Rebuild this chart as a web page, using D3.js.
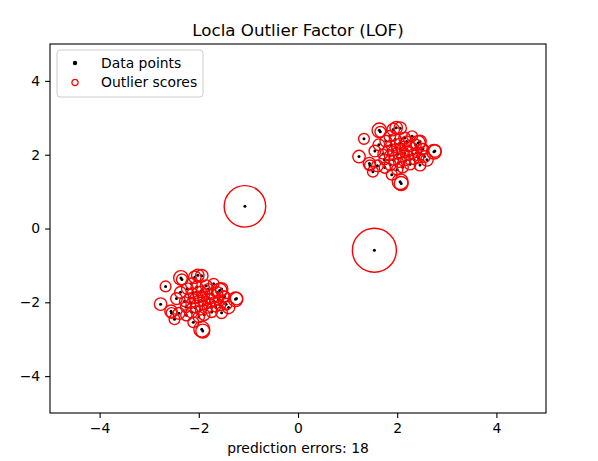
<!DOCTYPE html>
<html>
<head>
<meta charset="utf-8">
<script src="https://cdn.jsdelivr.net/npm/d3@7"></script>
<style>
  body { margin: 0; background: #fff; }
  svg { display: block; font-family: "DejaVu Sans", sans-serif; }
</style>
</head>
<body>
<div id="chart"></div>
<script>
// data: [x, y, normalised outlier score]
const upperCluster = [
  [1.23, 1.95, 0.08], [1.64, 2.66, 0.11], [1.66, 2.62, 0.06], [1.92, 2.68, 0.08],
  [1.98, 2.73, 0.08], [2.06, 2.72, 0.08], [1.33, 2.43, 0.06], [1.44, 1.76, 0.08],
  [1.45, 1.71, 0.06], [1.51, 1.54, 0.06], [1.89, 1.46, 0.06], [2.06, 1.27, 0.13],
  [2.08, 1.22, 0.10], [2.60, 1.86, 0.08], [2.74, 2.08, 0.11], [2.76, 2.10, 0.08],
  [2.42, 2.32, 0.11], [2.46, 2.36, 0.08], [2.30, 2.50, 0.06], [2.52, 2.16, 0.06],
  [1.63, 2.27, 0.07], [1.71, 2.02, 0.05], [1.74, 1.87, 0.06], [1.77, 2.37, 0.07],
  [1.81, 2.12, 0.05], [1.84, 1.97, 0.05], [1.86, 1.73, 0.07], [1.87, 2.26, 0.05],
  [1.91, 2.10, 0.045], [1.93, 1.85, 0.05], [1.96, 2.42, 0.07], [1.98, 2.18, 0.045],
  [2.01, 2.01, 0.045], [2.03, 1.79, 0.05], [2.05, 2.31, 0.05], [2.07, 2.14, 0.045],
  [2.09, 1.93, 0.045], [2.11, 1.66, 0.065], [2.13, 2.24, 0.045], [2.15, 2.04, 0.045],
  [2.17, 1.84, 0.05], [2.19, 2.36, 0.06], [2.21, 2.11, 0.045], [2.23, 1.97, 0.045],
  [2.26, 1.74, 0.065], [2.27, 2.22, 0.05], [2.31, 2.02, 0.045], [2.34, 1.87, 0.05],
  [2.37, 2.27, 0.065], [2.39, 2.06, 0.05], [2.43, 1.92, 0.06], [2.46, 1.72, 0.07],
  [1.60, 1.70, 0.07], [1.55, 2.10, 0.07], [1.75, 1.65, 0.065], [2.00, 1.60, 0.065],
  [2.15, 2.45, 0.07], [1.85, 2.50, 0.07], [2.50, 2.15, 0.065], [2.55, 1.95, 0.07]
];
const lowerCluster = [
  [-2.77, -2.05, 0.08], [-2.36, -1.34, 0.11], [-2.34, -1.38, 0.06], [-2.08, -1.32, 0.08],
  [-2.02, -1.27, 0.08], [-1.94, -1.28, 0.08], [-2.67, -1.57, 0.06], [-2.56, -2.24, 0.08],
  [-2.55, -2.29, 0.06], [-2.49, -2.46, 0.06], [-2.11, -2.54, 0.06], [-1.94, -2.73, 0.13],
  [-1.92, -2.78, 0.10], [-1.40, -2.14, 0.08], [-1.26, -1.92, 0.11], [-1.24, -1.90, 0.08],
  [-1.58, -1.68, 0.11], [-1.54, -1.64, 0.08], [-1.70, -1.50, 0.06], [-1.48, -1.84, 0.06],
  [-2.37, -1.73, 0.07], [-2.29, -1.98, 0.05], [-2.26, -2.13, 0.06], [-2.23, -1.63, 0.07],
  [-2.19, -1.88, 0.05], [-2.16, -2.03, 0.05], [-2.14, -2.27, 0.07], [-2.13, -1.74, 0.05],
  [-2.09, -1.90, 0.045], [-2.07, -2.15, 0.05], [-2.04, -1.58, 0.07], [-2.02, -1.82, 0.045],
  [-1.99, -1.99, 0.045], [-1.97, -2.21, 0.05], [-1.95, -1.69, 0.05], [-1.93, -1.86, 0.045],
  [-1.91, -2.07, 0.045], [-1.89, -2.34, 0.065], [-1.87, -1.76, 0.045], [-1.85, -1.96, 0.045],
  [-1.83, -2.16, 0.05], [-1.81, -1.64, 0.06], [-1.79, -1.89, 0.045], [-1.77, -2.03, 0.045],
  [-1.74, -2.26, 0.065], [-1.73, -1.78, 0.05], [-1.69, -1.98, 0.045], [-1.66, -2.13, 0.05],
  [-1.63, -1.73, 0.065], [-1.61, -1.94, 0.05], [-1.57, -2.08, 0.06], [-1.54, -2.28, 0.07],
  [-2.40, -2.30, 0.07], [-2.45, -1.90, 0.07], [-2.25, -2.35, 0.065], [-2.00, -2.40, 0.065],
  [-1.85, -1.55, 0.07], [-2.15, -1.50, 0.07], [-1.50, -1.85, 0.065], [-1.45, -2.05, 0.07]
];
const outlierPoints = [
  [-1.07, 0.60, 0.89], [1.54, -0.59, 1.0]
];
const xTicks = [-4, -2, 0, 2, 4];
const yTicks = [-4, -2, 0, 2, 4];
const legendLabels = ['Data points', 'Outlier scores'];

const W = 598, H = 461;
const margin = { left: 50, top: 44, right: 52, bottom: 48 };
const allPoints = upperCluster.concat(lowerCluster, outlierPoints);

const svg = d3.select('#chart').append('svg')
  .attr('width', W).attr('height', H);

const x = d3.scaleLinear().domain([-5, 5]).range([margin.left, W - margin.right]);
const y = d3.scaleLinear().domain([-5, 5]).range([H - margin.bottom, margin.top]);
// marker radius in px grows with sqrt of score (matplotlib s = 1000 * radius)
const r = d3.scaleSqrt().domain([0, 1]).range([0, 22]);

const plot = svg.append('g');
plot.append('clipPath').attr('id', 'clip')
  .append('rect')
  .attr('x', margin.left).attr('y', margin.top)
  .attr('width', W - margin.left - margin.right)
  .attr('height', H - margin.top - margin.bottom);

const marks = plot.append('g').attr('clip-path', 'url(#clip)');

marks.selectAll('circle.dot')
  .data(allPoints)
  .enter().append('circle')
  .attr('class', 'dot')
  .attr('cx', d => x(d[0]))
  .attr('cy', d => y(d[1]))
  .attr('r', 1.5)
  .attr('fill', '#000');

marks.selectAll('circle.score')
  .data(allPoints)
  .enter().append('circle')
  .attr('class', 'score')
  .attr('cx', d => x(d[0]))
  .attr('cy', d => y(d[1]))
  .attr('r', d => r(d[2]))
  .attr('fill', 'none')
  .attr('stroke', '#ff0000')
  .attr('stroke-width', 1.4);

// axes
const fmt = d => d < 0 ? '\u2212' + Math.abs(d) : d;
const xAxis = svg.append('g')
  .attr('transform', `translate(0,${H - margin.bottom})`)
  .call(d3.axisBottom(x).tickValues(xTicks).tickSize(4.9).tickPadding(4.9).tickFormat(fmt));
const yAxis = svg.append('g')
  .attr('transform', `translate(${margin.left},0)`)
  .call(d3.axisLeft(y).tickValues(yTicks).tickSize(4.9).tickPadding(4.9).tickFormat(fmt));
[xAxis, yAxis].forEach(a => {
  a.select('.domain').remove();
  a.selectAll('line').attr('stroke', '#000').attr('stroke-width', 1.1);
  a.selectAll('text').attr('fill', '#000').style('font-size', '13.9px').style('font-family', '"DejaVu Sans", sans-serif');
});

svg.append('rect')
  .attr('x', margin.left).attr('y', margin.top)
  .attr('width', W - margin.left - margin.right)
  .attr('height', H - margin.top - margin.bottom)
  .attr('fill', 'none').attr('stroke', '#000').attr('stroke-width', 1.1);

svg.append('text')
  .attr('x', (margin.left + W - margin.right) / 2).attr('y', 36)
  .attr('text-anchor', 'middle')
  .style('font-size', '16.7px')
  .text('Locla Outlier Factor (LOF)');

svg.append('text')
  .attr('x', (margin.left + W - margin.right) / 2).attr('y', 453)
  .attr('text-anchor', 'middle')
  .style('font-size', '13.9px')
  .text('prediction errors: 18');

// legend
const lg = svg.append('g').attr('transform', `translate(${margin.left + 7},${margin.top + 6})`);
lg.append('rect')
  .attr('width', 146).attr('height', 47).attr('rx', 3)
  .attr('fill', '#fff').attr('fill-opacity', 0.8)
  .attr('stroke', '#cccccc').attr('stroke-width', 1);
const items = lg.selectAll('g.item')
  .data(legendLabels)
  .enter().append('g')
  .attr('class', 'item')
  .attr('transform', (d, i) => `translate(18,${13 + i * 19.5})`);
items.append('circle')
  .attr('r', (d, i) => i === 0 ? 2.2 : 3.1)
  .attr('fill', (d, i) => i === 0 ? '#000' : 'none')
  .attr('stroke', (d, i) => i === 0 ? 'none' : '#ff0000')
  .attr('stroke-width', 1.3);
items.append('text')
  .attr('x', 26).attr('dy', '0.35em')
  .style('font-size', '13.9px')
  .text(d => d);
</script>
</body>
</html>
